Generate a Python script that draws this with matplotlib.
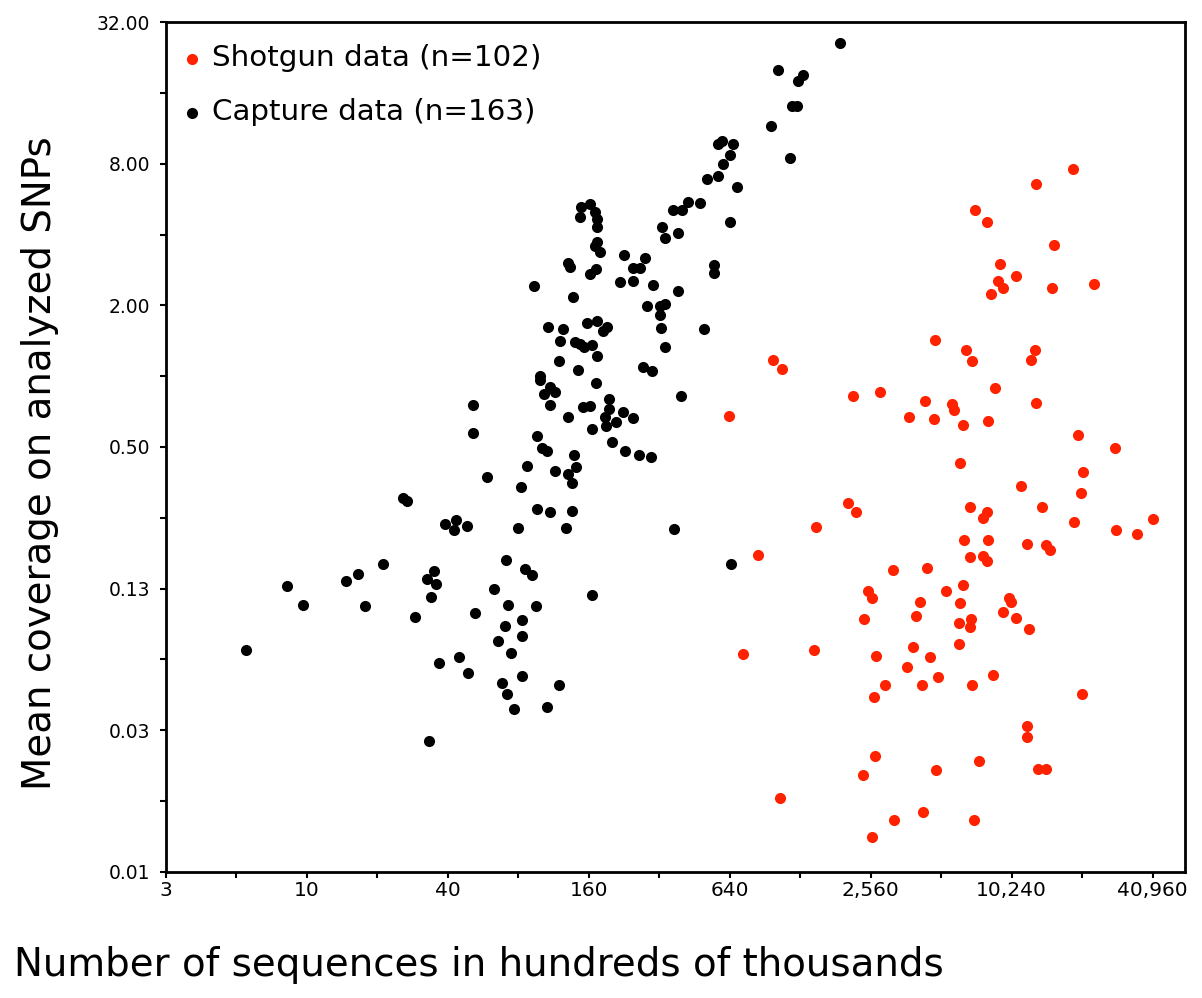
import matplotlib
matplotlib.use('Agg')
import matplotlib.pyplot as plt
from matplotlib.ticker import FixedLocator, FixedFormatter, NullFormatter

# Shotgun data (red): sequences (hundreds of thousands), mean coverage
shotgun_seq = [18770, 13010, 7137, 8006, 15565, 9127, 10650, 8977, 9428, 8330,
               15175, 23000, 4818, 6533, 6953, 12873, 12382, 8689, 4366, 5679,
               5806, 4784, 6359, 8136, 13010, 19590, 28180, 982, 1073, 636,
               843, 2145, 2814, 3730, 2048, 2215, 1491, 3177, 4439, 2500,
               2586, 5366, 4157, 2397, 3984, 6160, 20700, 20300, 11224, 6797,
               13754, 8006, 7700, 18895, 41200, 28470, 35000, 6405, 8136, 11940,
               14350, 14920, 6797, 7746, 8006, 6359, 6160, 10000, 10170, 9428,
               10680, 12176, 6118, 6840, 6797, 6098, 732, 1466, 2696, 3891,
               4585, 3668, 2939, 2645, 4240, 4961, 2670, 2381, 4851, 1053,
               3210, 4270, 2586, 8545, 6953, 20380, 11870, 11870, 7444, 13220,
               14306, 7066]
shotgun_cov = [7.60, 6.56, 5.07, 4.52, 3.60, 3.00, 2.66, 2.54, 2.38, 2.23,
               2.36, 2.46, 1.42, 1.29, 1.16, 1.29, 1.17, 0.888, 0.786, 0.761,
               0.718, 0.659, 0.619, 0.646, 0.771, 0.562, 0.493, 1.17, 1.07, 0.677,
               0.174, 0.823, 0.856, 0.668, 0.288, 0.265, 0.229, 0.150, 0.153, 0.122,
               0.114, 0.122, 0.109, 0.0925, 0.0955, 0.426, 0.392, 0.319, 0.342, 0.277,
               0.277, 0.265, 0.249, 0.239, 0.247, 0.222, 0.213, 0.201, 0.201, 0.193,
               0.191, 0.183, 0.170, 0.172, 0.164, 0.129, 0.108, 0.114, 0.109, 0.0996,
               0.0939, 0.0838, 0.0894, 0.0925, 0.0860, 0.0726, 0.0656, 0.0684, 0.0646, 0.0707,
               0.0637, 0.0581, 0.0484, 0.0432, 0.0484, 0.0524, 0.0242, 0.0201, 0.0211, 0.0161,
               0.0130, 0.0140, 0.0110, 0.0536, 0.0486, 0.0445, 0.0325, 0.0291, 0.0232, 0.0213,
               0.0213, 0.0130]

# Capture data (black)
capture_seq = [25.8, 26.9, 39.0, 43.4, 42.6, 48.4, 21.1, 16.5, 14.7, 8.26,
               9.62, 17.8, 35.0, 32.5, 35.6, 34.0, 29.1, 52.5, 5.49, 36.8,
               44.8, 49.0, 33.4, 51.2, 95.9, 101, 106, 201, 229, 262,
               294, 138, 141, 131, 136, 87.5, 115, 59.0, 82.0, 95.9,
               109, 136, 80.1, 128, 370, 71.0, 85.5, 91.4, 63.1, 165,
               72.6, 95.3, 83.3, 70.5, 82.8, 65.8, 74.8, 82.8, 68.4, 71.9,
               120, 77.0, 106, 93.4, 137, 107, 124, 157, 173, 184,
               192, 121, 140, 147, 153, 165, 173, 120, 144, 99.1,
               99.1, 172, 109, 103, 115, 109, 152, 162, 196, 196,
               188, 209, 190, 130, 51.4, 165, 225, 248, 497, 326,
               339, 274, 297, 396, 646, 386, 300, 283, 323, 339,
               323, 592, 572, 659, 640, 598, 572, 510, 685, 426,
               478, 399, 365, 645, 330, 339, 386, 149, 162, 170,
               147, 173, 173, 174, 170, 178, 130, 133, 162, 172,
               226, 278, 248, 265, 218, 247, 548, 548, 1893, 1032,
               1320, 1256, 1181, 1240, 961, 1158]
capture_cov = [0.302, 0.295, 0.235, 0.244, 0.222, 0.230, 0.159, 0.144, 0.134, 0.128,
               0.106, 0.105, 0.149, 0.137, 0.131, 0.115, 0.0949, 0.0981, 0.0684, 0.0605,
               0.0637, 0.0545, 0.0281, 0.571, 0.556, 0.493, 0.482, 0.523, 0.479, 0.463,
               0.454, 0.462, 0.412, 0.382, 0.352, 0.416, 0.395, 0.371, 0.337, 0.272,
               0.264, 0.268, 0.227, 0.226, 0.224, 0.165, 0.151, 0.142, 0.124, 0.117,
               0.106, 0.105, 0.0921, 0.0869, 0.0788, 0.0748, 0.0667, 0.0532, 0.0494, 0.0444,
               0.0484, 0.0383, 0.0393, 2.42, 2.16, 1.61, 1.59, 1.68, 1.71, 1.55,
               1.61, 1.41, 1.40, 1.37, 1.33, 1.36, 1.22, 1.16, 1.06, 1.00,
               0.962, 0.932, 0.896, 0.839, 0.853, 0.754, 0.741, 0.748, 0.797, 0.722,
               0.672, 0.640, 0.613, 0.672, 0.754, 0.596, 0.702, 0.662, 1.59, 1.60,
               1.33, 1.09, 1.05, 0.825, 0.159, 2.29, 2.44, 1.99, 1.99, 2.03,
               1.82, 10.0, 9.70, 9.70, 8.71, 7.98, 7.09, 6.89, 6.35, 5.51,
               5.43, 5.08, 5.08, 4.51, 4.29, 3.88, 4.05, 5.25, 5.39, 5.00,
               4.76, 4.64, 4.32, 3.71, 3.57, 3.38, 3.04, 2.92, 2.72, 2.84,
               3.27, 3.17, 2.87, 2.87, 2.52, 2.54, 2.97, 2.75, 26.2, 20.0,
               19.1, 18.0, 14.1, 14.1, 11.6, 8.43]

x_ticks = [2.5, 10, 40, 160, 640, 2560, 10240, 40960]
x_tick_labels = ['3', '10', '40', '160', '640', '2,560', '10,240', '40,960']
x_minor = [5, 20, 80, 320, 1280, 5120, 20480]
y_ticks = [0.0078125, 0.03125, 0.125, 0.5, 2, 8, 32]
y_tick_labels = ['0.01', '0.03', '0.13', '0.50', '2.00', '8.00', '32.00']
y_minor = [0.015625, 0.0625, 0.25, 1, 4, 16]

labels = ['Shotgun data (n=102)', 'Capture data (n=163)']
colors = ['#ff2200', '#000000']
x_title = 'Number of sequences in hundreds of thousands'
y_title = 'Mean coverage on analyzed SNPs'

plt.rcParams['font.family'] = ['DejaVu Sans']
W, H = 1202, 998
fig = plt.figure(figsize=(W / 100, H / 100), dpi=100)
L, R, T, B = 165.7, 1185, 22.1, 871.7
ax = fig.add_axes([L / W, 1 - B / H, (R - L) / W, (B - T) / H])
ax.set_xscale('log', base=2)
ax.set_yscale('log', base=2)

ax.scatter(shotgun_seq, shotgun_cov, s=64, color=colors[0], linewidths=0,
           label=labels[0], zorder=3)
ax.scatter(capture_seq, capture_cov, s=64, color=colors[1], linewidths=0,
           label=labels[1], zorder=3)

ax.set_xlim(2.5, 56300)
ax.set_ylim(0.0078125, 32)

ax.xaxis.set_major_locator(FixedLocator(x_ticks))
ax.xaxis.set_major_formatter(FixedFormatter(x_tick_labels))
ax.xaxis.set_minor_locator(FixedLocator(x_minor))
ax.xaxis.set_minor_formatter(NullFormatter())
ax.yaxis.set_major_locator(FixedLocator(y_ticks))
ax.yaxis.set_major_formatter(FixedFormatter(y_tick_labels))
ax.yaxis.set_minor_locator(FixedLocator(y_minor))
ax.yaxis.set_minor_formatter(NullFormatter())

ax.tick_params(which='both', direction='out', length=4, width=1.5,
               top=False, right=False, labelsize=14.5, colors='black')
ax.tick_params(axis='y', which='both', labelsize=13.5, pad=7)
ax.tick_params(axis='x', which='both', pad=3)
for sp in ax.spines.values():
    sp.set_linewidth(2)
    sp.set_color('black')

fig.text(479 / W, 1 - 965 / H, x_title, fontsize=27.9, ha='center', va='center')
fig.text(40 / W, 1 - 463 / H, y_title, fontsize=27.9, ha='center', va='center',
         rotation=90)

leg = ax.legend(loc='upper left', bbox_to_anchor=(0.014, 0.9738), frameon=False,
                fontsize=21.2, handlelength=0.8, handletextpad=0.28,
                borderaxespad=0, borderpad=0, labelspacing=0.88, scatterpoints=1)

fig.savefig('out.png', dpi=100)
